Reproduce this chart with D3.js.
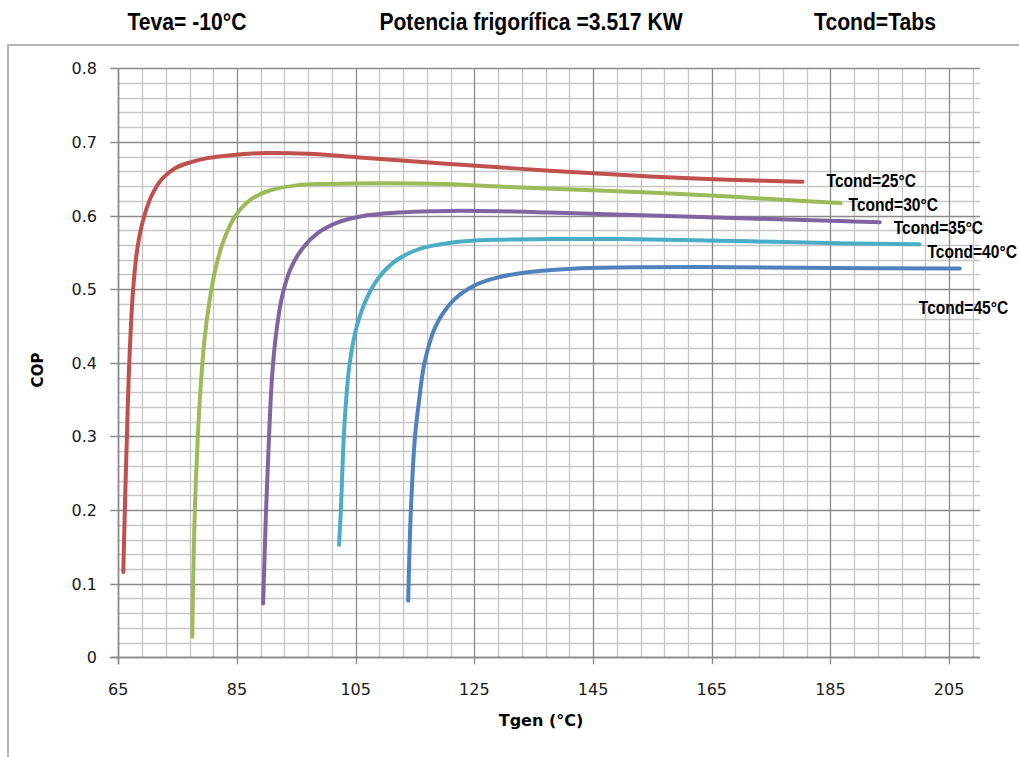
<!DOCTYPE html>
<html><head><meta charset="utf-8">
<script src="https://cdn.jsdelivr.net/npm/d3@7"></script>
<style>html,body{margin:0;padding:0;background:#fff;overflow:hidden}</style>
</head><body>
<svg id="chart" width="1019" height="757"></svg>
<script>
// ---- data ----
const titles = ["Teva= -10°C", "Potencia frigorífica =3.517 KW", "Tcond=Tabs"];
const xTicks = [65, 85, 105, 125, 145, 165, 185, 205];
const yTicks = [0, 0.1, 0.2, 0.3, 0.4, 0.5, 0.6, 0.7, 0.8];
const seriesNames = ["Tcond=25°C", "Tcond=30°C", "Tcond=35°C", "Tcond=40°C", "Tcond=45°C"];

const tgen25 = [65.84, 66.1, 66.45, 66.85, 67.5, 68.3, 69.4, 70.8, 72.5, 74.5, 77, 80, 84, 90, 97, 105.7, 120.9, 137.7, 154.6, 166.4, 180.3];
const cop25  = [0.116, 0.2, 0.3, 0.4, 0.5, 0.56, 0.6, 0.63, 0.651, 0.664, 0.672, 0.678, 0.682, 0.685, 0.684, 0.679, 0.670, 0.661, 0.653, 0.649, 0.646];

const tgen30 = [77.47, 77.6, 77.9, 78.4, 78.9, 79.5, 80.3, 81.3, 82.7, 84.6, 87.2, 90.5, 95, 100, 110, 120, 130, 146, 163, 179.8, 186.7];
const cop30  = [0.028, 0.1, 0.2, 0.3, 0.37, 0.43, 0.48, 0.525, 0.565, 0.598, 0.621, 0.634, 0.641, 0.643, 0.644, 0.643, 0.639, 0.634, 0.628, 0.620, 0.617];

const tgen35 = [89.4, 89.9, 90.4, 90.9, 91.6, 92.6, 94.0, 96.0, 98.6, 101.8, 106, 112, 118, 129, 137.7, 154.6, 171.4, 193.3];
const cop35  = [0.073, 0.2, 0.3, 0.38, 0.44, 0.49, 0.527, 0.555, 0.576, 0.590, 0.599, 0.604, 0.606, 0.606, 0.604, 0.600, 0.596, 0.591];

const tgen40 = [102.2, 102.5, 103.0, 103.4, 104.0, 105.2, 107.0, 109.1, 112, 115.9, 121, 128, 138, 150, 171.4, 188.3, 200.0];
const cop40  = [0.153, 0.2, 0.3, 0.35, 0.4, 0.45, 0.49, 0.518, 0.540, 0.555, 0.563, 0.567, 0.568, 0.568, 0.565, 0.562, 0.561];

const tgen45 = [113.85, 114.3, 115.0, 115.7, 116.6, 118.5, 121.5, 125, 129, 134, 140, 146, 163, 180, 206.8];
const cop45  = [0.077, 0.2, 0.3, 0.35, 0.4, 0.45, 0.485, 0.505, 0.516, 0.523, 0.527, 0.529, 0.53, 0.529, 0.528];

const seriesX = [tgen25, tgen30, tgen35, tgen40, tgen45];
const seriesY = [cop25, cop30, cop35, cop40, cop45];

// ---- layout / style ----
const colors = ["#C0504D", "#9BBB59", "#8064A2", "#4BACC6", "#4F81BD"];
const labelOffsets = [[24, -2], [8, 1], [14, 5], [8, 7], [-41, 38]];
const svg = d3.select("#chart");

const x = d3.scaleLinear().domain([65, 210.2]).range([118.3, 980]);
const y = d3.scaleLinear().domain([0, 0.8]).range([657.3, 68.3]);

// outer chart-area border
svg.append("rect").attr("x", 8).attr("y", 45).attr("width", 1100).attr("height", 800)
  .attr("fill", "#fff").attr("stroke", "#b4b4b4").attr("stroke-width", 2);

// titles
const titleX = [187, 531, 875];
svg.selectAll("text.title").data(titles).enter().append("text")
  .attr("class", "title")
  .attr("transform", (d, i) => `translate(${titleX[i]},30) scale(0.88,1)`)
  .attr("text-anchor", "middle")
  .attr("font-family", "Liberation Sans, Arial, sans-serif")
  .attr("font-weight", "bold").attr("font-size", 24).attr("fill", "#000")
  .text(d => d);

const g = svg.append("g");
const snap = v => Math.round(v) + 0.5;

// minor grid
const minorX = d3.range(65, 210.2, 4).filter(v => (v - 65) % 20 !== 0);
const minorY = d3.range(0, 0.8001, 0.02).filter(v => Math.abs(v * 10 - Math.round(v * 10)) > 1e-6);
g.selectAll("line.mx").data(minorX).enter().append("line")
  .attr("x1", d => snap(x(d))).attr("x2", d => snap(x(d)))
  .attr("y1", y(0.8)).attr("y2", y(0))
  .attr("stroke", "#c6c6c6").attr("stroke-width", 1.3);
g.selectAll("line.my").data(minorY).enter().append("line")
  .attr("y1", d => snap(y(d))).attr("y2", d => snap(y(d)))
  .attr("x1", x(65)).attr("x2", 980)
  .attr("stroke", "#c6c6c6").attr("stroke-width", 1.3);
// major grid
g.selectAll("line.Mx").data(xTicks).enter().append("line")
  .attr("x1", d => snap(x(d))).attr("x2", d => snap(x(d)))
  .attr("y1", y(0.8)).attr("y2", y(0) + 7)
  .attr("stroke", "#8a8a8a").attr("stroke-width", 1.3);
g.selectAll("line.My").data(yTicks).enter().append("line")
  .attr("y1", d => snap(y(d))).attr("y2", d => snap(y(d)))
  .attr("x1", x(65) - 8).attr("x2", 980)
  .attr("stroke", "#8a8a8a").attr("stroke-width", 1.3);

// axes lines
g.append("line").attr("x1", snap(x(65))).attr("x2", snap(x(65))).attr("y1", y(0.8)).attr("y2", y(0) + 7)
  .attr("stroke", "#868686").attr("stroke-width", 1.5);
g.append("line").attr("x1", x(65) - 8).attr("x2", 980).attr("y1", snap(y(0))).attr("y2", snap(y(0)))
  .attr("stroke", "#868686").attr("stroke-width", 1.5);

// tick labels
g.selectAll("text.yl").data(yTicks).enter().append("text")
  .attr("x", 97).attr("y", d => y(d) + 6)
  .attr("text-anchor", "end").attr("font-family", "DejaVu Sans, sans-serif")
  .attr("font-size", 16).attr("fill", "#1a1a1a")
  .text(d => d === 0 ? "0" : d3.format(".1f")(d));
g.selectAll("text.xl").data(xTicks).enter().append("text")
  .attr("x", d => x(d)).attr("y", 695)
  .attr("text-anchor", "middle").attr("font-family", "DejaVu Sans, sans-serif")
  .attr("font-size", 16).attr("fill", "#1a1a1a")
  .text(d => d);

// axis titles
svg.append("text").attr("x", 541).attr("y", 726).attr("text-anchor", "middle")
  .attr("font-family", "DejaVu Sans, sans-serif").attr("font-weight", "bold")
  .attr("font-size", 16).attr("fill", "#000").text("Tgen (°C)");
svg.append("text").attr("transform", "translate(43,370) rotate(-90)").attr("text-anchor", "middle")
  .attr("font-family", "DejaVu Sans, sans-serif").attr("font-weight", "bold")
  .attr("font-size", 15).attr("fill", "#000").text("COP");

// series lines
const line = d3.line().x(d => x(d[0])).y(d => y(d[1])).curve(d3.curveCatmullRom.alpha(0.5));
seriesX.forEach((xs, i) => {
  const pts = xs.map((v, j) => [v, seriesY[i][j]]);
  svg.append("path").datum(pts).attr("d", line)
    .attr("fill", "none").attr("stroke", colors[i]).attr("stroke-width", 4)
    .attr("stroke-linecap", "round").attr("stroke-linejoin", "round");
  const last = pts[pts.length - 1];
  svg.append("text")
    .attr("transform", `translate(${x(last[0]) + labelOffsets[i][0]},${y(last[1]) + labelOffsets[i][1] + 7}) scale(0.82,1)`)
    .attr("font-family", "Liberation Sans, Arial, sans-serif").attr("font-weight", "bold")
    .attr("font-size", 19).attr("fill", "#000").text(seriesNames[i]);
});
</script>
</body></html>
